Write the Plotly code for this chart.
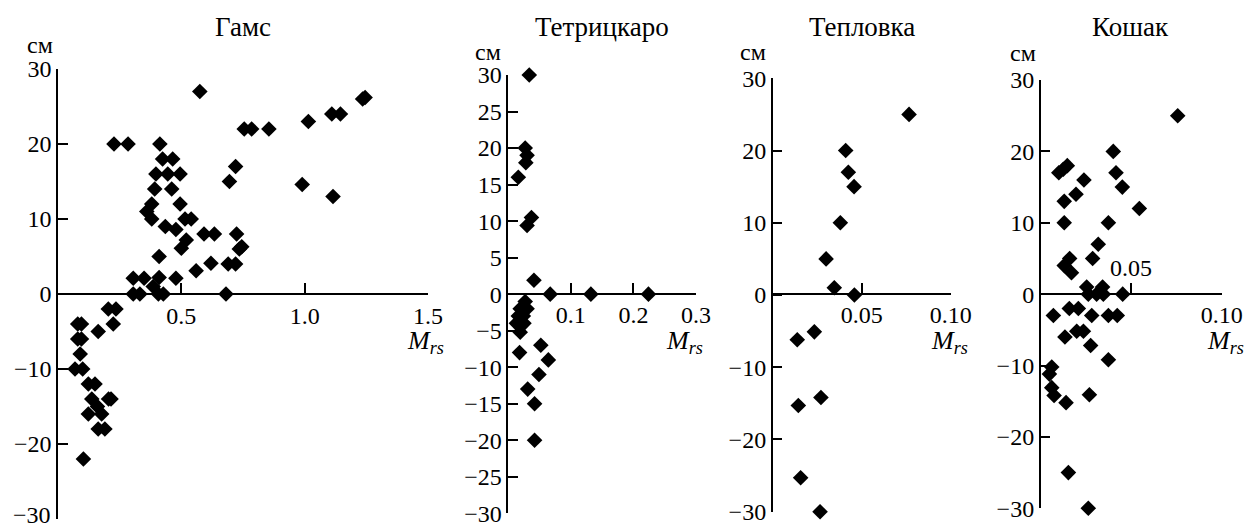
import plotly.graph_objects as go

W, H = 1247, 529

# ---------------- data ----------------
titles = ["Гамс", "Тетрицкаро", "Тепловка", "Кошак"]

gams_x = [0.575, 1.235, 1.245, 1.11, 1.145, 1.015, 0.755, 0.785, 0.855,
          0.227, 0.284, 0.413, 0.424, 0.465, 0.397, 0.445, 0.495, 0.392, 0.461,
          0.72, 0.695, 0.99, 1.115, 0.495, 0.38, 0.36, 0.38, 0.515, 0.54,
          0.435, 0.478, 0.592, 0.634, 0.724, 0.52, 0.50, 0.735, 0.745, 0.41,
          0.56, 0.62, 0.69, 0.72, 0.478, 0.305, 0.349, 0.41, 0.386,
          0.305, 0.332, 0.407, 0.427, 0.681,
          0.08, 0.095, 0.08, 0.095, 0.09, 0.069, 0.10, 0.163, 0.204, 0.235,
          0.224, 0.123, 0.15, 0.137, 0.16, 0.177, 0.123, 0.205, 0.215,
          0.163, 0.19, 0.103]
gams_y = [27, 26, 26.2, 24, 24, 23, 22, 22, 22,
          20, 20, 20, 18, 18, 16, 16, 16, 14, 14,
          17, 15, 14.6, 13, 12, 12, 11, 10, 10, 10,
          9, 8.6, 8, 8, 8, 7.2, 6.1, 6, 6.3, 5,
          3.1, 4.1, 4, 4, 2.1, 2.1, 2.1, 2.2, 1,
          0, 0, 0, 0, 0,
          -4, -4, -6, -6, -8, -10, -10, -5, -2, -2,
          -4, -12, -12, -14, -15, -16, -16, -14, -14,
          -18, -18, -22]

tetr_x = [0.0335, 0.027, 0.030, 0.028, 0.016, 0.037, 0.030,
          0.041, 0.067, 0.132, 0.224,
          0.027, 0.019, 0.030, 0.016, 0.024, 0.013, 0.025, 0.019,
          0.018, 0.052, 0.064, 0.049, 0.031, 0.042, 0.042]
tetr_y = [30, 20, 19, 18, 16, 10.5, 9.4,
          1.9, 0, 0, 0,
          -1, -2, -2, -3, -3, -4, -4, -5.2,
          -8, -7, -9, -11, -13, -15, -20]

tepl_x = [0.0766, 0.041, 0.0425, 0.0457, 0.038, 0.030, 0.0346, 0.0459,
          0.0138, 0.0234, 0.0271, 0.0144, 0.0157, 0.0266]
tepl_y = [25, 20, 17, 15, 10, 5, 1, 0,
          -6.2, -5.1, -14.2, -15.3, -25.3, -30]

kosh_x = [0.0757, 0.0401, 0.0416, 0.0451, 0.0545, 0.0374, 0.0318, 0.0287,
          0.010, 0.0125, 0.0147, 0.0239, 0.0195, 0.013, 0.013,
          0.013, 0.016, 0.017,
          0.0254, 0.0263, 0.0309, 0.0342, 0.0346, 0.0453,
          0.007, 0.0158, 0.0208, 0.0282, 0.0374, 0.0423,
          0.0134, 0.0199, 0.0236, 0.0276, 0.0374,
          0.0061, 0.0048, 0.0061, 0.0074, 0.014, 0.0269, 0.0153, 0.0263]
kosh_y = [25, 20, 17, 15, 12, 10, 7, 5,
          17, 17.5, 18, 16, 14, 13, 10,
          4, 5, 3,
          1, 0, 0, 1, 0, 0,
          -3, -2, -2, -3, -3, -3,
          -6, -5.2, -5.2, -7.2, -9.2,
          -10.2, -11.2, -13.1, -14.2, -15.2, -14.1, -25, -30]

xs = [gams_x, tetr_x, tepl_x, kosh_x]
ys = [gams_y, tetr_y, tepl_y, kosh_y]

x_ranges = [[0, 1.5], [0, 0.3], [0, 0.1], [0, 0.1]]
x_tickvals = [[0.5, 1.0, 1.5], [0.1, 0.2, 0.3], [0.05, 0.10], [0.05, 0.10]]
x_ticktext = [["0.5", "1.0", "1.5"], ["0.1", "0.2", "0.3"], ["0.05", "0.10"], ["", "0.10"]]

y_tickvals = [[-30, -20, -10, 0, 10, 20, 30],
              [-30, -25, -20, -15, -10, -5, 0, 5, 10, 15, 20, 25, 30],
              [-30, -20, -10, 0, 10, 20, 30],
              [-30, -20, -10, 0, 10, 20, 30]]

# ---------------- layout geometry (pixels) ----------------
x_px = [(58, 428), (508.3, 696), (772.7, 950.7), (1040.7, 1221.7)]
y_px = [(69, 519), (75, 513.3), (78.3, 511.7), (80, 508.3)]
zero_px = [294, 293.7, 293.7, 293.7]
title_px = [(243, 27), (601.7, 27), (861.7, 27), (1130.7, 27)]
cm_px = [(40, 45), (488.3, 51.7), (753, 52), (1022.7, 53)]
mrs_px = [(446, 342), (705, 342), (970, 342), (1246, 342)]

FONT = "Liberation Serif"
fig = go.Figure()
annotations = []

def lab(v):
    return ("\u2212" + str(abs(v))) if v < 0 else str(v)

for i in range(4):
    sfx = "" if i == 0 else str(i + 1)
    fig.add_trace(go.Scatter(
        x=xs[i], y=ys[i], mode="markers",
        xaxis="x" + sfx, yaxis="y" + sfx,
        marker=dict(symbol="diamond", size=12, color="black", line=dict(width=0)),
        cliponaxis=False, showlegend=False, hoverinfo="x+y"))

    x0, x1 = x_px[i]
    yt, yb = y_px[i]
    yt_text = [lab(v) for v in y_tickvals[i]]
    if i == 0:
        yt_text[0] = ""  # drawn as annotation so it is not dropped at the page edge
    fig.update_layout(**{
        "xaxis" + sfx: dict(
            domain=[x0 / W, x1 / W], range=x_ranges[i],
            anchor="free", position=1 - zero_px[i] / H, automargin=False,
            showline=True, linecolor="black", linewidth=1.5,
            ticks="inside", ticklen=10, tickwidth=1.5, tickcolor="black",
            tickvals=x_tickvals[i], ticktext=x_ticktext[i],
            showgrid=False, zeroline=False,
            tickfont=dict(family=FONT, size=24, color="black")),
        "yaxis" + sfx: dict(
            domain=[1 - yb / H, 1 - yt / H], range=[-30, 30],
            anchor="x" + sfx, automargin=False,
            showline=True, linecolor="black", linewidth=1.5,
            ticks="inside", ticklen=10, tickwidth=1.5, tickcolor="black",
            tickvals=y_tickvals[i], ticktext=yt_text,
            showgrid=False, zeroline=False,
            tickfont=dict(family=FONT, size=24, color="black")),
    })

    annotations.append(dict(text=titles[i], x=title_px[i][0] / W, y=1 - title_px[i][1] / H,
                            xref="paper", yref="paper", showarrow=False,
                            xanchor="center", yanchor="middle",
                            font=dict(family=FONT, size=27, color="black")))
    annotations.append(dict(text="см", x=cm_px[i][0] / W, y=1 - cm_px[i][1] / H,
                            xref="paper", yref="paper", showarrow=False,
                            xanchor="center", yanchor="middle",
                            font=dict(family=FONT, size=24, color="black")))
    annotations.append(dict(text="<i>M</i><sub><i>rs</i></sub>", x=mrs_px[i][0] / W,
                            y=1 - mrs_px[i][1] / H,
                            xref="paper", yref="paper", showarrow=False,
                            xanchor="right", yanchor="middle",
                            font=dict(family=FONT, size=26, color="black")))

# Гамс: bottom tick label −30
annotations.append(dict(text="\u221230", x=53 / W, y=1 - 515 / H, xref="paper", yref="paper",
                        showarrow=False, xanchor="right", yanchor="middle",
                        font=dict(family=FONT, size=24, color="black")))
# Кошак: 0.05 label sits above the axis
annotations.append(dict(text="0.05", x=0.05, y=3.6, xref="x4", yref="y4", showarrow=False,
                        xanchor="center", yanchor="middle",
                        font=dict(family=FONT, size=24, color="black")))

fig.update_layout(width=W, height=H, margin=dict(l=0, r=0, t=0, b=0),
                  template="none",
                  plot_bgcolor="white", paper_bgcolor="white",
                  annotations=annotations, showlegend=False)

fig.write_html("out.html", config={"displayModeBar": False},
               post_script="document.body.style.margin='0';")
